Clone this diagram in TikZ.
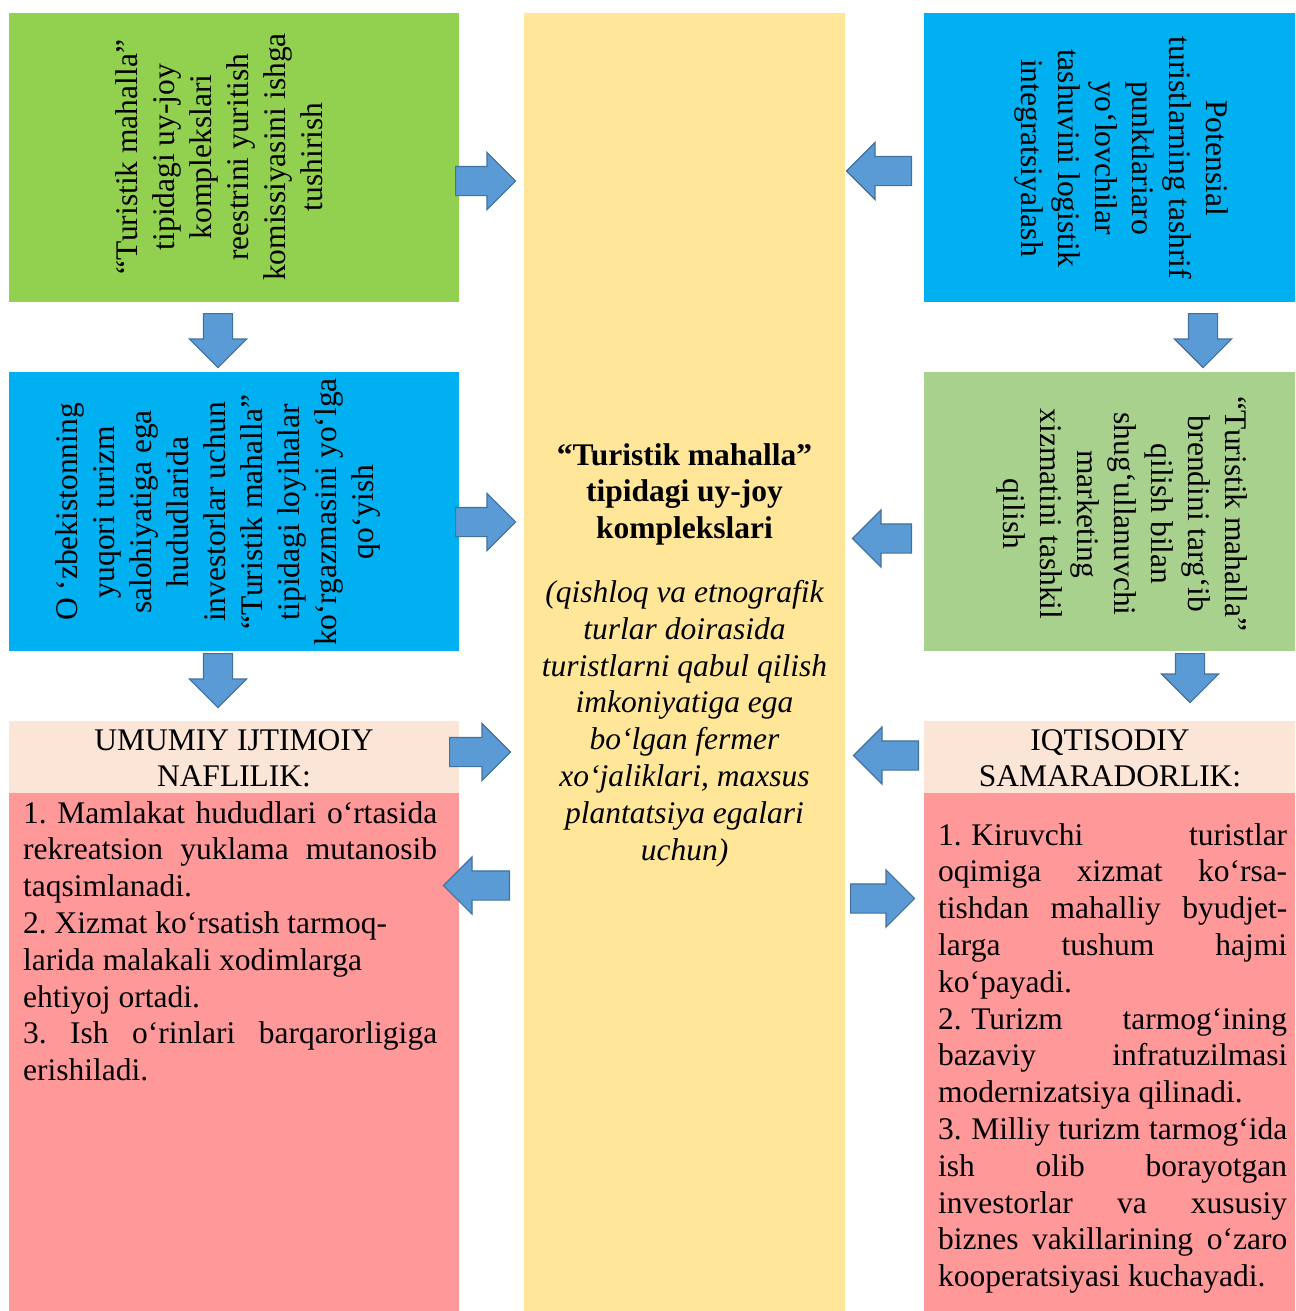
\documentclass[tikz,border=0pt]{standalone}
\usepackage{fontspec}
\setmainfont{Liberation Serif}
\usepackage{tikz}
\usetikzlibrary{shapes.arrows}
\definecolor{colorgreen}{HTML}{92D050}
\definecolor{colorlime}{HTML}{A9D18E}
\definecolor{colorblue}{HTML}{00B0F0}
\definecolor{coloryellow}{HTML}{FFE699}
\definecolor{colorhead}{HTML}{FBE5D6}
\definecolor{colorred}{HTML}{FF9999}
\definecolor{colorarrow}{HTML}{5B9BD5}
\definecolor{colorarrowline}{HTML}{41719C}
\tikzset{
  box/.style={draw=none, anchor=north west, inner sep=0pt},
  vtext/.style={inner sep=0pt, align=center, font=\fontsize{31.5}{37}\selectfont},
  blocktext/.style={inner sep=0pt},
  blockarrow/.style={single arrow, draw=colorarrowline, fill=colorarrow,
    line width=1.2pt, inner sep=14pt, single arrow head extend=14pt,
    minimum height=60pt, anchor=tail}
}
\newcommand\jline[1]{\makebox[\linewidth][s]{#1}}
\newcommand\bodyfont{\fontsize{31.5}{36.8}\selectfont\frenchspacing}

\begin{document}
\begin{tikzpicture}[x=1pt, y=-1pt]
\useasboundingbox (0,0) rectangle (1295,1311);

\node[box, fill=colorgreen, minimum width=450pt, minimum height=289pt] (gbox1) at (9,13) {};
\node[box, fill=colorblue, minimum width=450pt, minimum height=279pt] (bbox1) at (9,372) {};
\node[box, fill=colorhead, minimum width=450pt, minimum height=72pt] (hbox1) at (9,721) {};
\node[box, fill=colorred, minimum width=450pt, minimum height=518pt] (rbox1) at (9,793) {};

\node[box, fill=coloryellow, minimum width=321pt, minimum height=1298pt] (cbox) at (524,13) {};

\node[box, fill=colorblue, minimum width=371pt, minimum height=289pt] (bbox2) at (924,13) {};
\node[box, fill=colorlime, minimum width=371pt, minimum height=279pt] (gbox2) at (924,372) {};
\node[box, fill=colorhead, minimum width=371pt, minimum height=72pt] (hbox2) at (924,721) {};
\node[box, fill=colorred, minimum width=371pt, minimum height=518pt] (rbox2) at (924,793) {};

\node[vtext, rotate=90] (gtext1) at (219,157)
{“Turistik mahalla”\\tipidagi uy-joy\\komplekslari\\reestrini yuritish\\komissiyasini ishga\\tushirish};

\node[vtext, rotate=90] (btext1) at (218,512)
{O ‘zbekistonning\\yuqori turizm\\salohiyatiga ega\\hududlarida\\investorlar uchun\\“Turistik mahalla”\\tipidagi loyihalar\\ko‘rgazmasini yo‘lga\\qo‘yish};

\node[vtext, rotate=-90] (btext2) at (1122,158)
{Potensial\\turistlarning tashrif\\punktlariaro\\yo‘lovchilar\\tashuvini logistik\\integratsiyalash};

\node[vtext, rotate=-90] (gtext2) at (1122,514)
{“Turistik mahalla”\\brendini targ‘ib\\qilish bilan\\shug‘ullanuvchi\\marketing\\xizmatini tashkil\\qilish};

\node[blocktext, anchor=base] (ctext) at (684.5,465)
{\begin{minipage}[t]{321pt}\centering\bodyfont
\textbf{“Turistik mahalla”\\tipidagi uy-joy\\komplekslari}\\[27pt]
\textit{(qishloq va etnografik\\turlar doirasida\\turistlarni qabul qilish\\imkoniyatiga ega\\bo‘lgan fermer\\xo‘jaliklari, maxsus\\plantatsiya egalari\\uchun)}
\end{minipage}};

\node[blocktext, anchor=base] (htext1) at (234,750)
{\begin{minipage}[t]{450pt}\centering\bodyfont
UMUMIY IJTIMOIY\\NAFLILIK:
\end{minipage}};

\node[blocktext, anchor=base] (htext2) at (1110,750)
{\begin{minipage}[t]{371pt}\centering\bodyfont
IQTISODIY\\SAMARADORLIK:
\end{minipage}};

\node[blocktext, anchor=base west] (rtext1) at (23,823)
{\begin{minipage}[t]{414pt}\bodyfont
\jline{1. Mamlakat hududlari o‘rtasida}\\
\jline{rekreatsion yuklama mutanosib}\\
taqsimlanadi.\\
2. Xizmat ko‘rsatish tarmoq-\\
larida malakali xodimlarga\\
ehtiyoj ortadi.\\
\jline{3. Ish o‘rinlari barqarorligiga}\\
erishiladi.
\end{minipage}};

\node[blocktext, anchor=base west] (rtext2) at (938,845)
{\begin{minipage}[t]{349pt}\bodyfont
\jline{1.\hspace{.3em}Kiruvchi turistlar}\\
\jline{oqimiga xizmat ko‘rsa-}\\
\jline{tishdan mahalliy byudjet-}\\
\jline{larga tushum hajmi}\\
ko‘payadi.\\
\jline{2.\hspace{.3em}Turizm tarmog‘ining}\\
\jline{bazaviy infratuzilmasi}\\
modernizatsiya qilinadi.\\
\jline{3.\hspace{.3em}Milliy turizm tarmog‘ida}\\
\jline{ish olib borayotgan}\\
\jline{investorlar va xususiy}\\
\jline{biznes vakillarining o‘zaro}\\
kooperatsiyasi kuchayadi.
\end{minipage}};

\node[blockarrow] (ar1) at (455,181) {};
\node[blockarrow] (ar2) at (455,522) {};
\node[blockarrow, minimum height=61pt] (ar3) at (449,752) {};
\node[blockarrow, rotate=180, minimum height=66pt] (al3) at (510,885.5) {};
\node[blockarrow, rotate=-90, minimum height=54pt] (ad1) at (218,313) {};
\node[blockarrow, rotate=-90, minimum height=54pt] (ad2) at (218,653) {};

\node[blockarrow, rotate=180, minimum height=65pt] (al1) at (912,171) {};
\node[blockarrow, rotate=180, minimum height=59pt] (al2) at (912,538.5) {};
\node[blockarrow, rotate=180, minimum height=65pt] (al4) at (919,755.5) {};
\node[blockarrow, minimum height=64pt] (ar4) at (850,898.5) {};
\node[blockarrow, rotate=-90, minimum height=54pt] (ad3) at (1203,313) {};
\node[blockarrow, rotate=-90, minimum height=49pt] (ad4) at (1190,653) {};
\end{tikzpicture}
\end{document}
